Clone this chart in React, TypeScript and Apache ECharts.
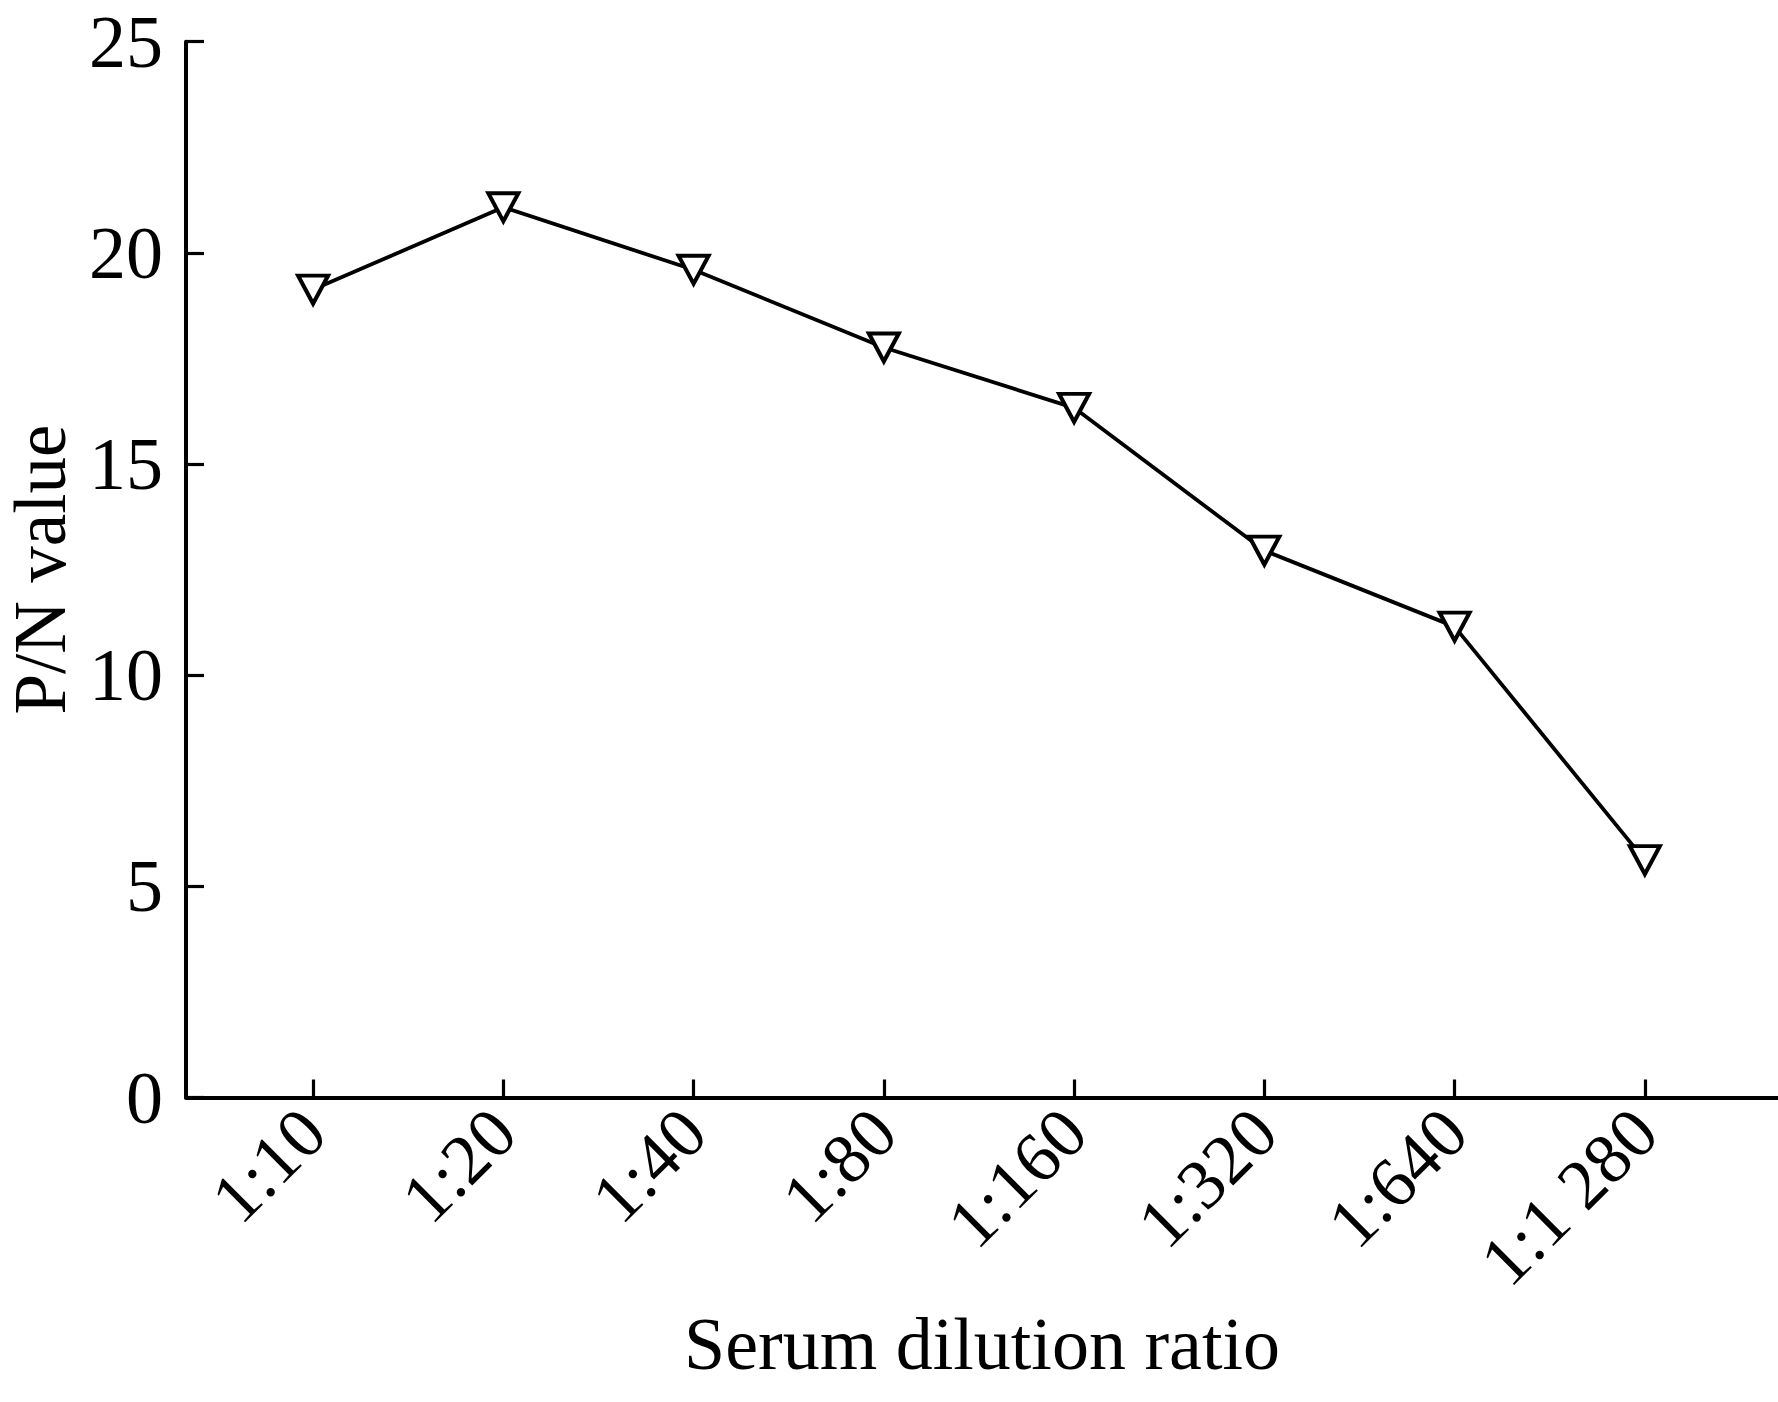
import React, { useEffect, useRef } from "react";
import * as echarts from "echarts";

const categories = ["1:10", "1:20", "1:40", "1:80", "1:160", "1:320", "1:640", "1:1 280"];
const pnValues = [19.13, 21.08, 19.6, 17.76, 16.33, 12.95, 11.15, 5.62];
const yTicks = [0, 5, 10, 15, 20, 25];
const xTickIndices = categories.map((_, i) => i);

const FONT = "Liberation Serif";

export default function App() {
  const ref = useRef<HTMLDivElement>(null);
  useEffect(() => {
    if (!ref.current) return;
    const chart = echarts.init(ref.current, undefined, { renderer: "svg" });
    const axisColor = "#000";
    chart.setOption({
      animation: false,
      backgroundColor: "#fff",
      grid: {
        left: 186,
        right: 0,
        top: 41.7,
        bottom: 304.5,
        containLabel: false,
        outerBoundsMode: "none",
      },
      xAxis: {
        type: "value",
        min: -0.668,
        max: 7.7,
        name: "Serum dilution ratio",
        nameLocation: "middle",
        nameGap: 209,
        nameTextStyle: { fontFamily: FONT, fontSize: 74, color: "#000" },
        splitLine: { show: false },
        axisLine: { show: true, onZero: false, lineStyle: { color: axisColor, width: 4 } },
        axisTick: {
          show: true,
          inside: true,
          length: 18,
          customValues: xTickIndices,
          lineStyle: { color: axisColor, width: 3.2 },
        },
        axisLabel: {
          show: true,
          customValues: xTickIndices,
          rotate: 45,
          margin: 23,
          padding: [97, 0, 0, 0],
          fontFamily: FONT,
          fontSize: 71,
          color: "#000",
          formatter: (v: number) => categories[Math.round(v)] ?? "",
        },
      },
      yAxis: {
        type: "value",
        min: 0,
        max: 25,
        interval: 5,
        name: "P/N value",
        nameLocation: "middle",
        nameGap: 109,
        nameTextStyle: { fontFamily: FONT, fontSize: 73, color: "#000" },
        splitLine: { show: false },
        axisLine: { show: true, onZero: false, lineStyle: { color: axisColor, width: 4 } },
        axisTick: { show: true, inside: true, length: 18, lineStyle: { color: axisColor, width: 3.2 } },
        axisLabel: {
          margin: 23,
          fontFamily: FONT,
          fontSize: 74,
          color: "#000",
          formatter: (v: number) => (yTicks.includes(v) ? String(v) : ""),
        },
      },
      series: [
        {
          type: "line",
          data: pnValues.map((v, i) => [i, v]),
          symbol: "triangle",
          symbolRotate: 180,
          symbolSize: [30, 28],
          showAllSymbol: true,
          lineStyle: { color: "#000", width: 3.8 },
          itemStyle: { color: "#fff", borderColor: "#000", borderWidth: 4 },
          z: 3,
        },
      ],
    });
    return () => chart.dispose();
  }, []);
  return (
    <div
      ref={ref}
      style={{ position: "absolute", left: 0, top: 0, width: 1778, height: 1402, background: "#fff" }}
    />
  );
}
